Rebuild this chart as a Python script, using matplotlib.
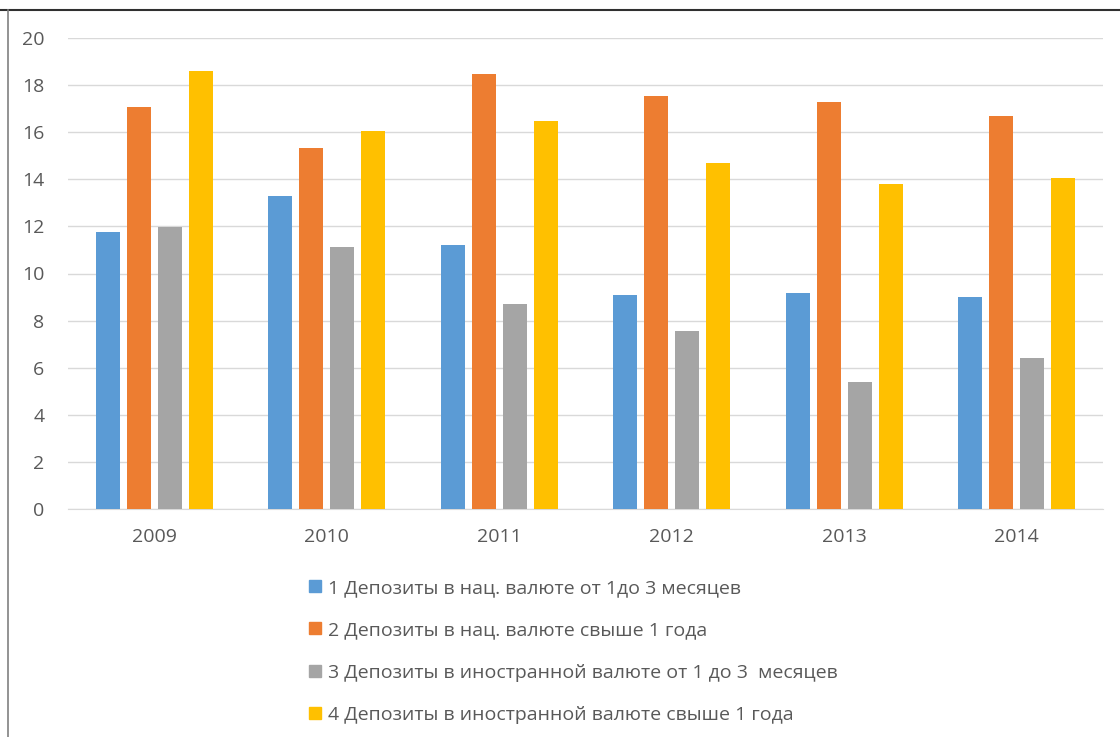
import numpy as np
import matplotlib.pyplot as plt
from matplotlib.lines import Line2D

plt.rcParams['font.family'] = ['Open Sans', 'DejaVu Sans']

# Data
years = ['2009', '2010', '2011', '2012', '2013', '2014']
labels = ['1 Депозиты в нац. валюте от 1до 3 месяцев',
          '2 Депозиты в нац. валюте свыше 1 года',
          '3 Депозиты в иностранной валюте от 1 до 3  месяцев',
          '4 Депозиты в иностранной валюте свыше 1 года']
dep1 = [11.76, 13.29, 11.21, 9.09, 9.17, 9.0]
dep2 = [17.07, 15.33, 18.47, 17.54, 17.28, 16.69]
dep3 = [11.97, 11.12, 8.7, 7.56, 5.39, 6.41]
dep4 = [18.6, 16.05, 16.47, 14.69, 13.8, 14.05]
colors = ['#5B9BD5', '#ED7D31', '#A5A5A5', '#FFC000']

fig = plt.figure(figsize=(11.2, 7.37), dpi=100)
ax = fig.add_axes([68 / 1120, 228 / 737, 1035 / 1120, 471 / 737])

x = np.arange(len(years))
step = 0.18
width = 0.138
for i, vals in enumerate([dep1, dep2, dep3, dep4]):
    ax.bar(x + (i - 1.5) * step, vals, width, color=colors[i], label=labels[i], zorder=3)

ax.set_xlim(-0.5, 5.5)
ax.set_ylim(0, 20)
ax.set_yticks(range(0, 21, 2))
ax.set_xticks(x)
ax.set_xticklabels(years)
ax.grid(axis='y', color='#D9D9D9', linewidth=1, zorder=0)
for s in ['top', 'right', 'left']:
    ax.spines[s].set_visible(False)
ax.spines['bottom'].set_color('#D9D9D9')
ax.tick_params(axis='both', length=0, labelsize=14, colors='#595959')
ax.tick_params(axis='y', pad=17)
ax.tick_params(axis='x', pad=14)

# Legend
handles = [Line2D([], [], marker='s', linestyle='none', markersize=8,
                  markerfacecolor=c, markeredgecolor=c) for c in colors]
fig.legend(handles, labels, loc='upper left', bbox_to_anchor=(299 / 1120, 1 - 571 / 737),
           frameon=False, fontsize=14, labelcolor='#595959', labelspacing=1.26,
           handlelength=0.8, handletextpad=0.3, borderaxespad=0)

# Border lines
fig.add_artist(Line2D([0, 1], [1 - 10 / 737, 1 - 10 / 737], color='#303030', linewidth=1.5))
fig.add_artist(Line2D([8 / 1120, 8 / 1120], [0, 1 - 10 / 737], color='#808080', linewidth=1.2))

fig.savefig('out.png', dpi=100)
